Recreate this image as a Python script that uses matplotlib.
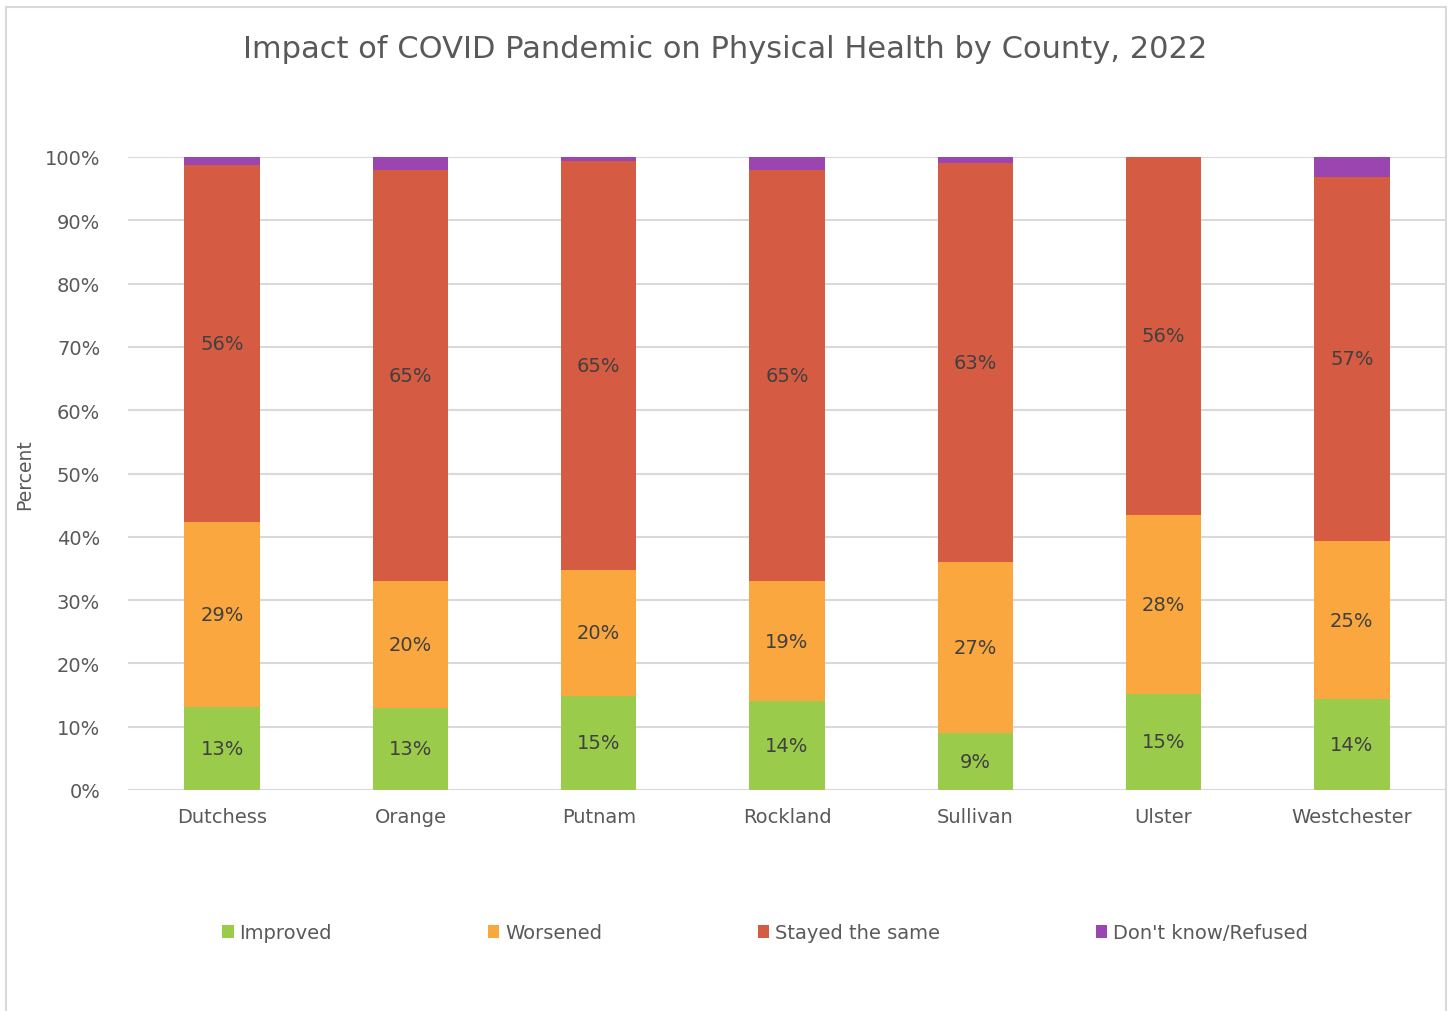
import numpy as np
import matplotlib
matplotlib.use("Agg")
import matplotlib.pyplot as plt
from matplotlib.patches import Rectangle

counties = ["Dutchess", "Orange", "Putnam", "Rockland", "Sullivan", "Ulster", "Westchester"]
improved = [13.1, 13.0, 14.9, 14.0, 9.0, 15.2, 14.3]
worsened = [29.3, 20.0, 19.9, 19.0, 27.0, 28.3, 25.1]
stayed = [56.4, 65.0, 64.6, 65.0, 63.0, 56.5, 57.4]
dont_know = [1.2, 2.0, 0.6, 2.0, 1.0, 0.0, 3.2]

series = [("Improved", improved, "#9BCB4B", True),
          ("Worsened", worsened, "#F9A73E", True),
          ("Stayed the same", stayed, "#D55B42", True),
          ("Don't know/Refused", dont_know, "#9B45B0", False)]

plt.rcParams['font.family'] = ['DejaVu Sans']
text_c = "#595959"
label_c = "#404040"

fig = plt.figure(figsize=(14.52, 10.12), dpi=100)
fig.patches.append(Rectangle((6/1452, -0.01), 1440/1452, 1 - 8/1012 + 0.01,
                             transform=fig.transFigure, fill=False,
                             edgecolor="#D9D9D9", linewidth=1.5))
ax = fig.add_axes([128/1452, 1 - 791/1012, 1318/1452, 633/1012])

x = np.arange(len(counties))
bottom = np.zeros(len(counties))
for name, vals, color, show in series:
    vals = np.array(vals)
    ax.bar(x, vals, width=0.4, bottom=bottom, color=color, label=name, zorder=3)
    if show:
        for xi, b, v in zip(x, bottom, vals):
            ax.text(xi, b + v / 2, f"{round(v):.0f}%", ha="center", va="center",
                    fontsize=14, color=label_c, zorder=4)
    bottom += vals

ax.set_xlim(-0.5, len(counties) - 0.5)
ax.set_ylim(0, 100)
ax.set_yticks(np.arange(0, 101, 10))
ax.set_yticklabels([f"{v}%" for v in range(0, 101, 10)])
ax.set_xticks(x)
ax.set_xticklabels(counties)
ax.tick_params(axis="both", length=0, labelsize=14, labelcolor=text_c)
ax.tick_params(axis="x", pad=12)
ax.tick_params(axis="y", pad=20)
ax.grid(axis="y", color="#D9D9D9", linewidth=1.5, zorder=0)
for s in ax.spines.values():
    s.set_visible(False)

ax.set_ylabel("Percent", fontsize=13.5, color=text_c)
ax.yaxis.set_label_coords(-0.0715, 0.5)

fig.text(725/1452, 1 - 50/1012, "Impact of COVID Pandemic on Physical Health by County, 2022",
         ha="center", va="center", fontsize=22, color=text_c)

fig.legend(loc="center", bbox_to_anchor=(765/1452, 1 - 934/1012), ncol=4,
           frameon=False, fontsize=14, labelcolor=text_c, handlelength=0.6,
           handleheight=0.6, handletextpad=0.3, columnspacing=8.0)

fig.savefig("out.png", dpi=100)
